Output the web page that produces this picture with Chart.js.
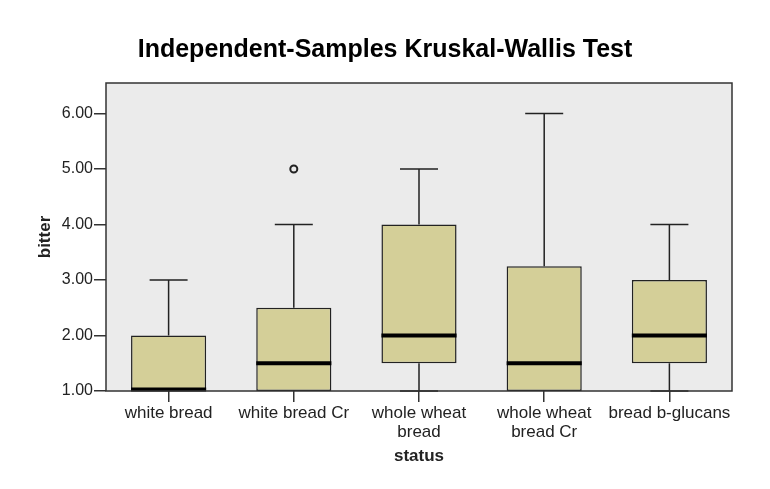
<!DOCTYPE html>
<html>
<head>
<meta charset="utf-8">
<script src="https://cdn.jsdelivr.net/npm/chart.js@4.4.0/dist/chart.umd.min.js"></script>
<style>
html, body { margin: 0; padding: 0; background: #fff; }
canvas { display: block; }
</style>
</head>
<body>
<canvas id="kwChart" width="770" height="489"></canvas>
<script>
// boxplot summary per group
const categories = [['white bread'], ['white bread Cr'], ['whole wheat', 'bread'], ['whole wheat', 'bread Cr'], ['bread b-glucans']];
const whiskerLow = [1, 1, 1, 1, 1];
const q1 = [1, 1, 1.5, 1, 1.5];
const median = [1, 1.5, 2, 1.5, 2];
const q3 = [2, 2.5, 4, 3.25, 3];
const whiskerHigh = [3, 4, 5, 6, 4];
const outliers = [[], [5], [], [], []];
const yTicks = [1, 2, 3, 4, 5, 6];

const ink = '#222';
const fontFamily = '"Liberation Sans", Arial, sans-serif';

// whiskers, medians, outliers and the frame are drawn here
const boxParts = {
    id: 'boxParts',
    beforeDraw(chart) {
        const { ctx, chartArea: a } = chart;
        ctx.save();
        ctx.fillStyle = '#ebebeb';
        ctx.fillRect(a.left, a.top, a.right - a.left, a.bottom - a.top);
        ctx.restore();
    },
    afterDatasetsDraw(chart) {
        const { ctx, chartArea: a, scales } = chart;
        const y = scales.y;
        const bars = chart.getDatasetMeta(0).data;
        ctx.save();
        ctx.strokeStyle = ink;
        ctx.lineWidth = 1.5;
        bars.forEach((bar, i) => {
            const x = bar.x;
            const half = bar.width / 2;
            const capHalf = 19;
            // upper whisker
            if (whiskerHigh[i] > q3[i]) {
                ctx.beginPath();
                ctx.moveTo(x, y.getPixelForValue(q3[i]));
                ctx.lineTo(x, y.getPixelForValue(whiskerHigh[i]));
                ctx.moveTo(x - capHalf, y.getPixelForValue(whiskerHigh[i]));
                ctx.lineTo(x + capHalf, y.getPixelForValue(whiskerHigh[i]));
                ctx.stroke();
            }
            // lower whisker
            if (whiskerLow[i] < q1[i]) {
                ctx.beginPath();
                ctx.moveTo(x, y.getPixelForValue(q1[i]));
                ctx.lineTo(x, y.getPixelForValue(whiskerLow[i]));
                ctx.moveTo(x - capHalf, y.getPixelForValue(whiskerLow[i]));
                ctx.lineTo(x + capHalf, y.getPixelForValue(whiskerLow[i]));
                ctx.stroke();
            }
            // median
            ctx.save();
            ctx.strokeStyle = '#000';
            ctx.lineWidth = 4;
            ctx.beginPath();
            const my = y.getPixelForValue(median[i]) - (median[i] === q1[i] ? 1.5 : 0);
            ctx.moveTo(x - half, my);
            ctx.lineTo(x + half, my);
            ctx.stroke();
            ctx.restore();
            // outliers
            ctx.save();
            ctx.lineWidth = 2;
            outliers[i].forEach(v => {
                ctx.beginPath();
                ctx.arc(x, y.getPixelForValue(v), 3.5, 0, Math.PI * 2);
                ctx.stroke();
            });
            ctx.restore();
        });
        // frame round the plot
        ctx.strokeStyle = '#333';
        ctx.lineWidth = 1.5;
        ctx.strokeRect(a.left, a.top, a.right - a.left, a.bottom - a.top);
        ctx.restore();
    }
};

new Chart(document.getElementById('kwChart'), {
    type: 'bar',
    data: {
        labels: categories,
        datasets: [{
            label: 'bitter',
            data: q1.map((v, i) => [v, q3[i]]),
            backgroundColor: '#d4cf98',
            borderColor: ink,
            borderWidth: 1.5,
            borderSkipped: false,
            barPercentage: 0.6,
            categoryPercentage: 1
        }]
    },
    options: {
        responsive: false,
        animation: false,
        devicePixelRatio: 1,
        layout: { padding: 0 },
        plugins: {
            legend: { display: false },
            tooltip: { enabled: false },
            title: {
                display: true,
                text: 'Independent-Samples Kruskal-Wallis Test',
                color: '#000',
                font: { family: fontFamily, size: 25, weight: 'bold' },
                padding: { top: 35, bottom: 18 }
            }
        },
        scales: {
            x: {
                afterFit: s => { s.height = 98; },
                grid: { offset: false, drawOnChartArea: false, tickLength: 11, color: '#333', lineWidth: 1.5 },
                border: { display: false },
                ticks: {
                    padding: 2, maxRotation: 0, autoSkip: false, color: ink,
                    font: { family: fontFamily, size: 17, lineHeight: 1.1 }
                },
                title: {
                    display: true, text: 'status', color: ink,
                    font: { family: fontFamily, size: 17, weight: 'bold' },
                    padding: { top: 0, bottom: 22 }
                }
            },
            y: {
                min: 1,
                max: 6.55,
                afterBuildTicks: s => { s.ticks = yTicks.map(v => ({ value: v })); },
                afterFit: s => { s.width = 106; },
                grid: { drawOnChartArea: false, tickLength: 12, color: '#333', lineWidth: 1.5 },
                border: { display: false },
                ticks: {
                    padding: 1, color: ink,
                    font: { family: fontFamily, size: 16 },
                    callback: v => Number(v).toFixed(2)
                },
                title: {
                    display: true, text: 'bitter', color: ink,
                    font: { family: fontFamily, size: 17, weight: 'bold' },
                    padding: { top: 35, bottom: 0 }
                }
            },
            yRight: {
                position: 'right',
                afterFit: s => { s.width = 38; },
                grid: { display: false },
                border: { display: false },
                ticks: { display: false }
            }
        }
    },
    plugins: [boxParts]
});
</script>
</body>
</html>
